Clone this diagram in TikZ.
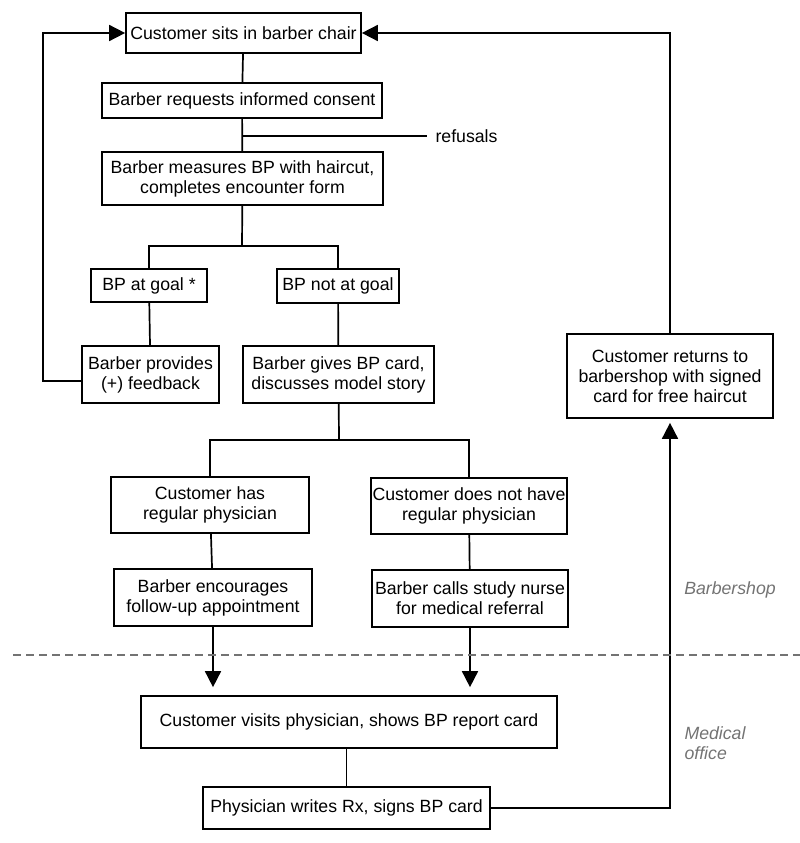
\documentclass[tikz,border=0pt]{standalone}
\usepackage{fontspec}
\setmainfont{Liberation Sans}
\usetikzlibrary{arrows.meta}

\tikzset{
  stepbox/.style={draw, line width=1.7pt, align=center, inner sep=1pt,
    font=\fontsize{17.7}{20}\selectfont},
  link/.style={line width=1.7pt},
  arr/.style={line width=1.7pt, -{Triangle[length=16pt,width=16pt]}},
  zone/.style={text=black!55, font=\fontsize{17.7}{20}\selectfont\itshape, align=left}
}

\begin{document}
\begin{tikzpicture}[x=1pt, y=-1pt]
    \useasboundingbox (0,0) rectangle (800,843);

    % Barbershop steps
    \node[stepbox, minimum width=235pt, minimum height=40pt] (chair) at (243.5,33) {Customer sits in barber chair};
    \node[stepbox, minimum width=280pt, minimum height=35pt] (consent) at (242,100.5) {Barber requests informed consent};
    \node[stepbox, minimum width=281pt, minimum height=53pt] (measure) at (242.5,178.5) {Barber measures BP with haircut,\\completes encounter form};
    \node[stepbox, minimum width=116pt, minimum height=33pt] (atgoal) at (149,285.5) {BP at goal *};
    \node[stepbox, minimum width=122pt, minimum height=34pt] (notgoal) at (338,286) {BP not at goal};
    \node[stepbox, minimum width=137pt, minimum height=57pt] (feedback) at (150.5,374.5) {Barber provides\\(+) feedback};
    \node[stepbox, minimum width=191pt, minimum height=57pt] (bpcard) at (338.5,374.5) {Barber gives BP card,\\discusses model story};
    \node[stepbox, minimum width=198pt, minimum height=56pt] (hasdoc) at (210,505) {Customer has\\regular physician};
    \node[stepbox, minimum width=196pt, minimum height=56pt] (nodoc) at (469,506) {Customer does not have\\regular physician};
    \node[stepbox, minimum width=198pt, minimum height=57pt] (encourage) at (213,597.5) {Barber encourages\\follow-up appointment};
    \node[stepbox, minimum width=196pt, minimum height=57pt] (nurse) at (470,598.5) {Barber calls study nurse\\for medical referral};
    \node[stepbox, minimum width=206pt, minimum height=84pt] (returns) at (670,376) {Customer returns to\\barbershop with signed\\card for free haircut};

    % Medical office steps
    \node[stepbox, minimum width=416pt, minimum height=52pt] (visit) at (349,722) {Customer visits physician, shows BP report card};
    \node[stepbox, minimum width=287pt, minimum height=42pt] (rx) at (346.5,808) {Physician writes Rx, signs BP card};

    % Refusals branch
    \coordinate (ref) at (242,136);
    \node[font=\fontsize{17.7}{20}\selectfont, inner sep=0pt] (refusals) at (466.5,136) {refusals};
    \draw[link] (consent) -- (measure);
    \draw[link] (ref) -- ([xshift=-8pt]refusals.west);

    % Splits
    \coordinate (split1) at (242,246);
    \coordinate (split2) at (339,440);
    \draw[link] (chair) -- (consent);
    \draw[link] (measure) -- (split1);
    \draw[link] (atgoal.north) |- (split1) -| (notgoal.north);
    \draw[link] (atgoal) -- (feedback);
    \draw[link] (notgoal) -- (bpcard);
    \draw[link] (bpcard) -- (split2);
    \draw[link] (hasdoc.north) |- (split2) -| (nodoc.north);
    \draw[link] (hasdoc) -- (encourage);
    \draw[link] (nodoc) -- (nurse);
    \draw[link] (visit.south -| rx.north) -- (rx.north);

    % Arrows to the physician
    \draw[arr, shorten >=8pt] (encourage.south) -- (encourage.south |- visit.north);
    \draw[arr, shorten >=8pt] (nurse.south) -- (nurse.south |- visit.north);

    % Loops back to the chair
    \draw[arr] ([yshift=-6.5pt]feedback.west) -- ++(-38,0) |- (chair.west);
    \draw[arr] (returns.north) |- (chair.east);
    \draw[arr, shorten >=4pt] (rx.east) -| (returns.south);

    % Setting divider
    \draw[black!55, line width=1.4pt, dash pattern=on 8pt off 5pt] (13,655) -- (800,655);
    \node[zone] (shop) at (730,590) {Barbershop};
    \node[zone, anchor=west] (office) at (681,743) {Medical\\office};

\end{tikzpicture}
\end{document}
